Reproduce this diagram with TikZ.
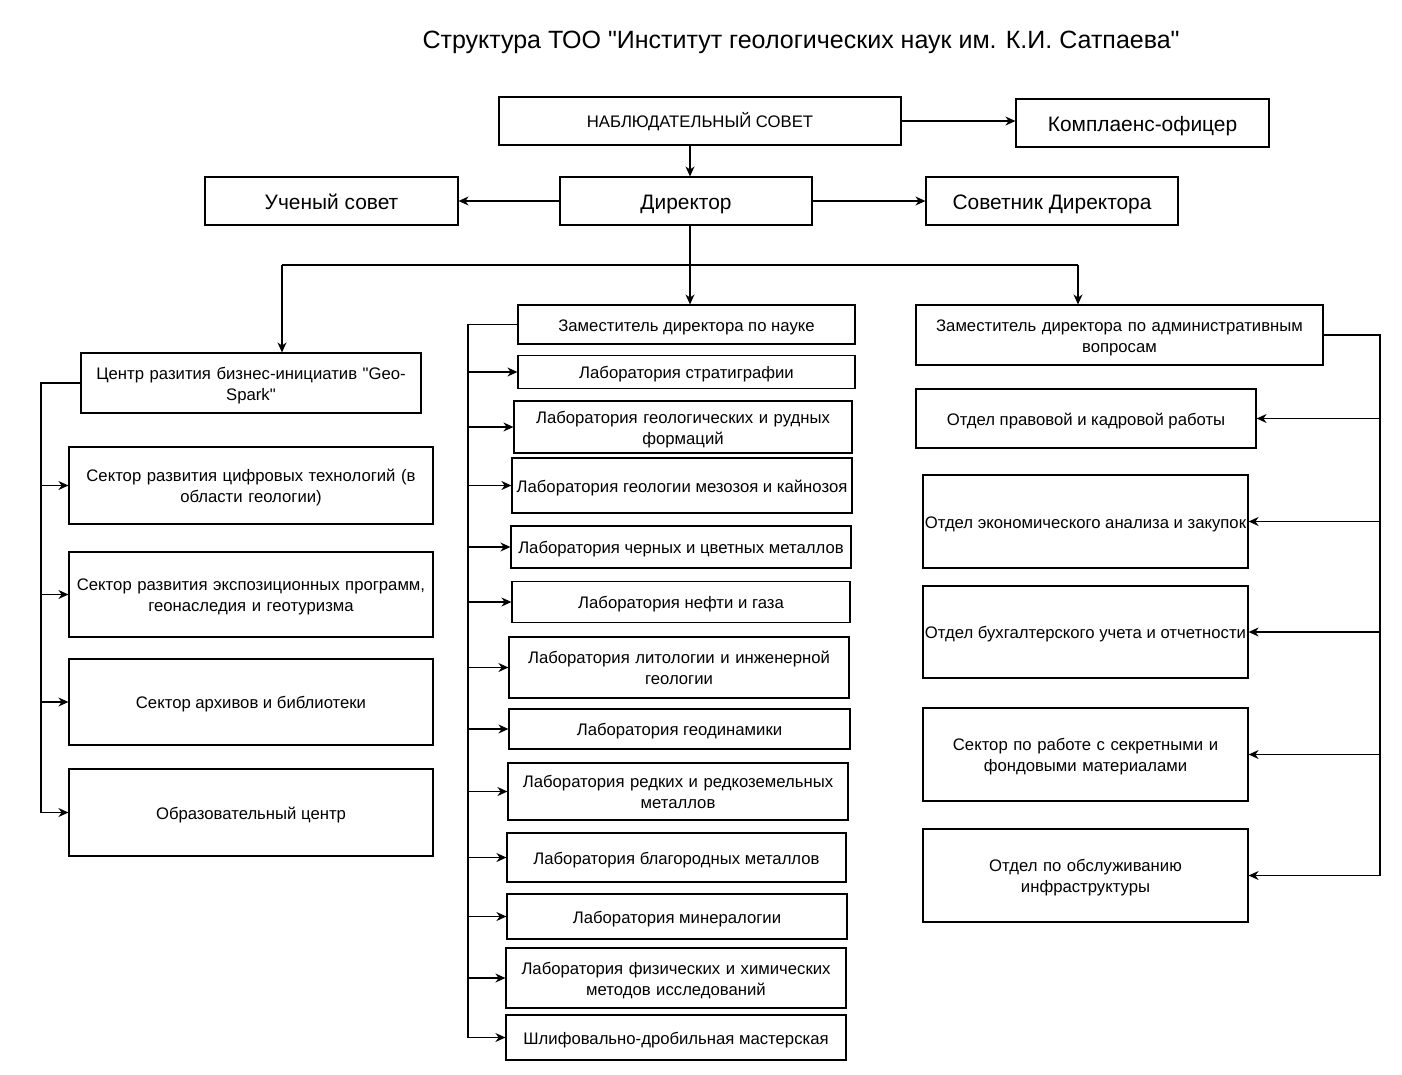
\documentclass[tikz,border=0pt]{standalone}
\usepackage{fontspec}
\setmainfont{Liberation Sans}[Ligatures=TeXOff]
\usetikzlibrary{arrows.meta}
\usetikzlibrary{positioning}

\begin{document}
\begin{tikzpicture}[x=1pt,y=-1pt]

    \useasboundingbox (0,0) rectangle (1402,1074);
    \tikzset{unit/.style={draw,line width=1.2pt,align=center,inner sep=0pt,
        font=\fontsize{16.7}{21}\selectfont,
        execute at begin node=\rule{0pt}{1.05em},
        execute at end node=\rule[-0.25em]{0pt}{0pt}}}
    \tikzset{bigunit/.style={unit,font=\fontsize{20.9}{25}\selectfont}}
    \tikzset{twoline/.style={unit,text width=#1}}
    \tikzset{wire/.style={line width=1.2pt}}
    \tikzset{arr/.style={wire,-{Stealth[length=10pt,width=9pt]}}}

    % title
    \node[font=\fontsize{25}{30}\selectfont] (title) at (801,42) {Структура ТОО "Институт геологических наук им. К.И. Сатпаева"};

    % top level
    \node[unit,minimum width=402,minimum height=48] (NS) at (700,121) {НАБЛЮДАТЕЛЬНЫЙ СОВЕТ};
    \node[bigunit,minimum width=253,minimum height=48] (KO) at (1142.5,123) {Комплаенс-офицер};
    \node[bigunit,minimum width=252,minimum height=48] (DI) at (686,201) {Директор};
    \node[bigunit,minimum width=253,minimum height=48] (UC) at (331.5,201) {Ученый совет};
    \node[bigunit,minimum width=252,minimum height=48] (SO) at (1052,201) {Советник Директора};

    % left branch
    \node[twoline=340,minimum height=60] (CR) at (251,383) {Центр разития бизнес-инициатив "Geo-\\Spark"};
    \node[twoline=364,minimum height=77] (S1) at (251,485.5) {Сектор развития цифровых технологий (в\\области геологии)};
    \node[twoline=364,minimum height=85] (S2) at (251,594.5) {Сектор развития экспозиционных программ,\\геонаследия и геотуризма};
    \node[unit,minimum width=364,minimum height=86] (S3) at (251,702) {Сектор архивов и библиотеки};
    \node[unit,minimum width=364,minimum height=87] (OC) at (251,812.5) {Образовательный центр};

    % deputy for science and laboratories
    \node[unit,minimum width=337,minimum height=39] (ZN) at (686.5,324.5) {Заместитель директора по науке};
    \node[unit,minimum width=337,minimum height=33] (ST) at (686.5,372) {Лаборатория стратиграфии};
    \node[twoline=338,minimum height=52] (GR) at (683,427) {Лаборатория геологических и рудных\\формаций};
    \node[unit,minimum width=340,minimum height=55] (MK) at (682,485.5) {Лаборатория геологии мезозоя и кайнозоя};
    \node[unit,minimum width=340,minimum height=42] (CM) at (681,547) {Лаборатория черных и цветных металлов};
    \node[unit,minimum width=338,minimum height=41] (NG) at (681,602) {Лаборатория нефти и газа};
    \node[twoline=340,minimum height=61] (LI) at (679,667.5) {Лаборатория литологии и инженерной\\геологии};
    \node[unit,minimum width=341,minimum height=40] (GD) at (679.5,729) {Лаборатория геодинамики};
    \node[twoline=340,minimum height=57] (RM) at (678,791.5) {Лаборатория редких и редкоземельных\\металлов};
    \node[unit,minimum width=339,minimum height=49] (BM) at (676.5,857.5) {Лаборатория благородных металлов};
    \node[unit,minimum width=340,minimum height=45] (MI) at (677,916.5) {Лаборатория минералогии};
    \node[twoline=340,minimum height=60] (FH) at (676,978) {Лаборатория физических и химических\\методов исследований};
    \node[unit,minimum width=340,minimum height=45] (SH) at (676,1037.5) {Шлифовально-дробильная мастерская};

    % deputy for administration and departments
    \node[twoline=407,minimum height=60] (ZA) at (1119.5,335) {Заместитель директора по административным\\вопросам};
    \node[unit,minimum width=340,minimum height=59] (PR) at (1086,418.5) {Отдел правовой и кадровой работы};
    \node[unit,minimum width=325,minimum height=93] (EK) at (1085.5,521.5) {Отдел экономического анализа и закупок};
    \node[unit,minimum width=325,minimum height=92] (BU) at (1085.5,632) {Отдел бухгалтерского учета и отчетности};
    \node[twoline=325,minimum height=93] (SK) at (1085.5,754.5) {Сектор по работе с секретными и\\фондовыми материалами};
    \node[twoline=325,minimum height=93] (IN) at (1085.5,875.5) {Отдел по обслуживанию\\инфраструктуры};

    % bus points
    \coordinate (trunk) at (690,265);
    \coordinate (busL) at (282,265);
    \coordinate (busR) at (1078,265);
    \coordinate (lbus) at (41,0);
    \coordinate (mbus) at (468,0);
    \coordinate (rbus) at (1380,0);

    % top links
    \draw[arr] (NS.east) -- (NS.east -| KO.west);
    \draw[arr] (NS.south -| trunk) -- (DI.north -| trunk);
    \draw[arr] (DI.west) -- (UC.east);
    \draw[arr] (DI.east) -- (SO.west);
    \draw[arr] (DI.south -| trunk) -- (ZN.north -| trunk);
    \draw[wire] (busL) -- (busR);
    \draw[arr] (busL) -- (CR.north -| busL);
    \draw[arr] (busR) -- (ZA.north -| busR);

    % left bus
    \draw[wire] (CR.west) -- (CR.west -| lbus) -- (OC.west -| lbus);
    \draw[arr] (S1.west -| lbus) -- (S1.west);
    \draw[arr] (S2.west -| lbus) -- (S2.west);
    \draw[arr] (S3.west -| lbus) -- (S3.west);
    \draw[arr] (OC.west -| lbus) -- (OC.west);

    % middle bus
    \draw[wire] (ZN.west) -- (ZN.west -| mbus) -- (SH.west -| mbus);
    \draw[arr] (ST.west -| mbus) -- (ST.west);
    \draw[arr] (GR.west -| mbus) -- (GR.west);
    \draw[arr] (MK.west -| mbus) -- (MK.west);
    \draw[arr] (CM.west -| mbus) -- (CM.west);
    \draw[arr] (NG.west -| mbus) -- (NG.west);
    \draw[arr] (LI.west -| mbus) -- (LI.west);
    \draw[arr] (GD.west -| mbus) -- (GD.west);
    \draw[arr] (RM.west -| mbus) -- (RM.west);
    \draw[arr] (BM.west -| mbus) -- (BM.west);
    \draw[arr] (MI.west -| mbus) -- (MI.west);
    \draw[arr] (FH.west -| mbus) -- (FH.west);
    \draw[arr] (SH.west -| mbus) -- (SH.west);

    % right bus
    \draw[wire] (ZA.east) -- (ZA.east -| rbus) -- (IN.east -| rbus);
    \draw[arr] (PR.east -| rbus) -- (PR.east);
    \draw[arr] (EK.east -| rbus) -- (EK.east);
    \draw[arr] (BU.east -| rbus) -- (BU.east);
    \draw[arr] (SK.east -| rbus) -- (SK.east);
    \draw[arr] (IN.east -| rbus) -- (IN.east);

\end{tikzpicture}
\end{document}
